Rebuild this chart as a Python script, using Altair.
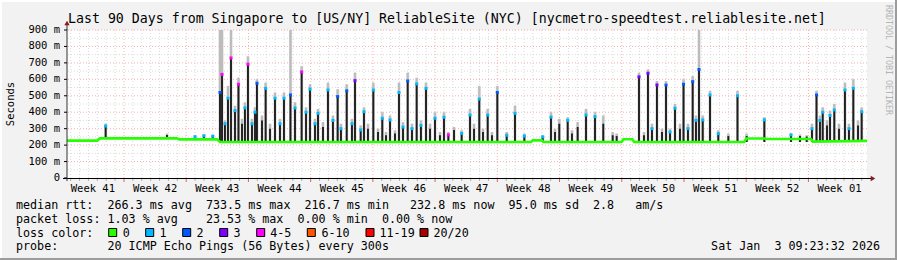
import altair as alt
import pandas as pd

# ---------------- text ----------------
TITLE = "Last 90 Days from Singapore to [US/NY] ReliableSite (NYC) [nycmetro-speedtest.reliablesite.net]"
ROW1 = "median rtt:  266.3 ms avg  733.5 ms max  216.7 ms min   232.8 ms now  95.0 ms sd  2.8   am/s"
ROW2 = "packet loss: 1.03 % avg    23.53 % max  0.00 % min  0.00 % now"
ROW3 = "loss color:"
ROW4 = "probe:       20 ICMP Echo Pings (56 Bytes) every 300s"
STAMP = "Sat Jan  3 09:23:32 2026"
SIDE = "RRDTOOL / TOBI OETIKER"
YTITLE = "Seconds"

# ---------------- axes ----------------
week_labels = ["Week 41", "Week 42", "Week 43", "Week 44", "Week 45", "Week 46", "Week 47",
               "Week 48", "Week 49", "Week 50", "Week 51", "Week 52", "Week 01"]
first_week_line = 6.41          # day (from graph start) of first week boundary
y_ticks = [0, 100, 200, 300, 400, 500, 600, 700, 800, 900]
y_tick_labels = ["0", "100 m", "200 m", "300 m", "400 m", "500 m", "600 m", "700 m", "800 m", "900 m"]
y_minor = [50, 150, 250, 350, 450, 550, 650, 750, 850]

# ---------------- loss colours ----------------
loss_names = ["0", "1", "2", "3", "4-5", "6-10", "11-19", "20/20"]
loss_colors = ["#26ff00", "#00b8ff", "#0059ff", "#7e00ff", "#ff00ff", "#ff5500", "#ff0000", "#a10000"]

# ---------------- median baseline (day, ms) ----------------
base_day = [0, 3.4, 3.7, 12.4, 12.6, 16.9, 17.2, 52.2, 52.4, 53.4, 53.6, 62.4, 62.6, 63.6, 63.8,
            76.2, 76.4, 78.5, 78.7, 83.7, 83.9, 90]
base_val = [227, 227, 241, 241, 235, 235, 219, 219, 229, 229, 219, 219, 236, 236, 219,
            219, 240, 240, 237, 237, 221, 226]

# ---------------- spikes before week 43 (baseline ~240) ----------------
early_day = [4.35, 11.25, 14.4, 15.4, 16.4]
early_peak = [316, 262, 251, 257, 255]
early_smoke = [330, 270, 260, 265, 260]
early_loss = [1, 0, 1, 1, 1]

# ---------------- spikes from week 43 on (baseline ~219) ----------------
spike_day = [17.21, 17.44, 17.77, 18.11, 18.45, 18.90, 19.29, 19.69, 20.02, 20.36, 20.81, 21.15, 21.37,
             21.94, 22.35, 22.84, 23.40, 23.96, 24.41, 25.14, 25.65, 26.40, 26.89, 27.34, 27.90, 28.24,
             28.80, 29.36, 29.92, 30.45, 30.82, 31.47, 32.06, 32.40, 33.04, 33.41, 33.86, 34.46, 34.99,
             35.47, 35.89, 36.34, 36.90, 37.35, 37.80, 38.33, 38.81, 39.34, 39.82, 40.39, 40.84, 41.40,
             41.96, 42.41, 42.90, 43.54, 44.40, 45.34, 45.79, 46.38, 46.80, 47.33, 47.81, 48.41, 49.47,
             50.40, 51.45, 53.52, 54.45, 54.90, 55.38, 56.33, 56.81, 57.45, 58.39, 59.40, 60.33, 61.39,
             61.84, 64.35, 64.91, 65.36, 65.81, 66.37, 66.94, 67.39, 67.84, 68.40, 68.96, 69.36, 69.86,
             70.39, 70.76, 71.10, 71.52, 72.34, 73.27, 74.40, 75.43, 76.46, 78.45, 81.45, 82.46, 83.22,
             83.81, 84.32, 84.71, 85.02, 85.50, 85.84, 86.32, 86.85, 87.52, 87.97, 88.46, 88.99, 89.40]
spike_peak = [520, 630, 330, 485, 730, 410, 570, 330, 426, 692, 330, 400, 576,
              350, 545, 300, 485, 330, 485, 505, 426, 645, 400, 540, 330, 393,
              310, 535, 350, 495, 300, 530, 330, 592, 292, 403, 300, 535, 280,
              363, 260, 353, 270, 520, 310, 590, 300, 572, 320, 545, 300, 363,
              260, 369, 262, 292, 271, 383, 300, 480, 280, 383, 260, 520, 260,
              393, 255, 250, 370, 280, 330, 350, 270, 310, 383, 373, 330, 260,
              255, 615, 260, 637, 300, 566, 280, 565, 280, 424, 300, 570, 300,
              586, 350, 660, 353, 505, 270, 255, 500, 255, 353, 262, 255, 252,
              300, 505, 350, 400, 320, 380, 414, 300, 535, 300, 545, 320, 403]
spike_smoke = [900, 900, 350, 560, 900, 440, 610, 360, 460, 740, 360, 430, 600,
               380, 580, 330, 520, 360, 520, 900, 460, 680, 430, 570, 360, 420,
               340, 580, 380, 540, 330, 570, 360, 640, 320, 430, 330, 580, 300,
               400, 280, 380, 290, 580, 340, 640, 330, 610, 350, 580, 330, 400,
               280, 400, 280, 310, 290, 420, 330, 560, 300, 420, 280, 560, 280,
               440, 270, 260, 400, 300, 360, 370, 290, 340, 420, 400, 380, 280,
               270, 640, 280, 660, 330, 590, 300, 590, 300, 450, 330, 600, 330,
               620, 380, 900, 380, 530, 290, 270, 530, 270, 370, 270, 265, 260,
               330, 530, 380, 430, 350, 410, 450, 330, 580, 330, 600, 350, 430]
spike_loss = [2, 4, 1, 1, 4, 1, 4, 0, 1, 4, 1, 1, 2,
              0, 1, 0, 1, 1, 1, 2, 1, 4, 1, 1, 1, 1,
              0, 1, 1, 2, 1, 2, 1, 3, 1, 1, 0, 1, 0,
              1, 0, 1, 0, 1, 1, 2, 1, 1, 1, 1, 0, 1,
              0, 1, 4, 0, 1, 1, 0, 1, 0, 1, 0, 2, 1,
              1, 1, 1, 1, 0, 0, 1, 0, 0, 1, 1, 0, 0,
              0, 3, 0, 3, 1, 3, 0, 2, 1, 1, 0, 2, 1,
              2, 1, 2, 1, 1, 1, 0, 1, 0, 1, 1, 0, 0,
              1, 2, 1, 1, 0, 1, 1, 0, 1, 1, 1, 0, 1]

# ---------------- frames ----------------
MONO = "DejaVu Sans Mono"
W, H = 800, 148
xs = alt.Scale(domain=[0, 90], nice=False, zero=False)
ys = alt.Scale(domain=[0, 900], nice=False, zero=False)


def X(f):
    return alt.X(f, type="quantitative", scale=xs, axis=None)


def Y(f):
    return alt.Y(f, type="quantitative", scale=ys, axis=None)


week_lines = [first_week_line + 7 * k for k in range(12)]
week_centers = [first_week_line - 3.5 + 7 * k for k in range(len(week_labels))]
day_lines = [round(first_week_line - 6 + k, 2) for k in range(90)]
day_minor = [d for d in day_lines if all(abs(d - w) > 0.01 for w in week_lines)]

df_base = pd.DataFrame({"d": base_day, "v": base_val})
df_early = pd.DataFrame({"d": early_day, "p": early_peak, "s": early_smoke, "l": early_loss,
                         "b": [240] * len(early_day)})
df_main = pd.DataFrame({"d": spike_day, "p": spike_peak, "s": spike_smoke, "l": spike_loss,
                        "b": [219] * len(spike_day)})
df_sp = pd.concat([df_early, df_main], ignore_index=True)
df_sp["loss"] = [loss_names[i] for i in df_sp["l"]]
one = pd.DataFrame({"a": [0]})

layers = []
# grid
layers.append(alt.Chart(pd.DataFrame({"v": y_minor})).mark_rule(color="#dadada", strokeDash=[1, 2], strokeWidth=1).encode(y=Y("v")))
layers.append(alt.Chart(pd.DataFrame({"d": day_minor})).mark_rule(color="#dadada", strokeDash=[1, 2], strokeWidth=1).encode(x=X("d")))
layers.append(alt.Chart(pd.DataFrame({"v": y_ticks[1:]})).mark_rule(color="#f6b0b0", strokeDash=[1, 2], strokeWidth=1).encode(y=Y("v")))
layers.append(alt.Chart(pd.DataFrame({"d": week_lines})).mark_rule(color="#f6b0b0", strokeDash=[1, 2], strokeWidth=1).encode(x=X("d")))

# smoke and spikes
layers.append(alt.Chart(df_sp).mark_rule(color="#d6d6d6", strokeWidth=3).encode(x=X("d"), y=Y("b"), y2="s"))
layers.append(alt.Chart(df_sp).mark_rule(color="#8c8c8c", strokeWidth=2).encode(x=X("d"), y=Y("b"), y2="s", opacity=alt.value(0.35)))
layers.append(alt.Chart(df_sp).mark_rule(color="#1e1e1e", strokeWidth=1.9).encode(x=X("d"), y=Y("b"), y2="p"))
# median baseline
layers.append(alt.Chart(df_base).mark_line(color="#26ff00", strokeWidth=2.6, interpolate="linear").encode(x=X("d"), y=Y("v")))
# loss markers on peaks
layers.append(alt.Chart(df_sp[df_sp["l"] > 0]).mark_square(size=9, opacity=1).encode(
    x=X("d"), y=Y("p"),
    color=alt.Color("loss:N", scale=alt.Scale(domain=loss_names, range=loss_colors), legend=None)))

# axes lines and ticks
layers.append(alt.Chart(one).mark_rule(color="#000000", strokeWidth=1).encode(x=alt.value(-4), x2=alt.value(804), y=alt.value(148.5)))
layers.append(alt.Chart(one).mark_rule(color="#333333", strokeWidth=1).encode(x=alt.value(0), y=alt.value(-5), y2=alt.value(151)))
layers.append(alt.Chart(pd.DataFrame({"v": y_ticks})).mark_rule(color="#000000", strokeWidth=1).encode(x=alt.value(-3), x2=alt.value(0), y=Y("v")))
layers.append(alt.Chart(pd.DataFrame({"d": day_minor})).mark_rule(color="#b0b0b0", strokeWidth=1).encode(x=X("d"), y=alt.value(149), y2=alt.value(151)))
layers.append(alt.Chart(pd.DataFrame({"d": week_lines})).mark_rule(color="#e06060", strokeWidth=1).encode(x=X("d"), y=alt.value(149), y2=alt.value(152)))
layers.append(alt.Chart(one).mark_point(shape="triangle-up", filled=True, color="#8b1a1a", size=28, opacity=1).encode(x=alt.value(0), y=alt.value(-7)))
layers.append(alt.Chart(one).mark_point(shape="triangle-right", filled=True, color="#8b1a1a", size=28, opacity=1).encode(x=alt.value(806), y=alt.value(148.5)))

# tick labels
layers.append(alt.Chart(pd.DataFrame({"v": y_ticks, "t": y_tick_labels})).mark_text(
    font=MONO, fontSize=10.5, align="right", baseline="middle", color="#000000").encode(
    x=alt.value(-7), y=Y("v"), text="t:N"))
layers.append(alt.Chart(pd.DataFrame({"d": week_centers, "t": week_labels})).mark_text(
    font=MONO, fontSize=10.5, align="center", baseline="alphabetic", color="#000000").encode(
    x=X("d"), y=alt.value(161.7), text="t:N"))


def txt(s, x, y, size=11.7, align="left", angle=0, color="#000000", baseline="alphabetic"):
    return alt.Chart(pd.DataFrame({"t": [s.replace(" ", "\u00a0")]})).mark_text(
        font=MONO, fontSize=size, align=align, baseline=baseline, angle=angle, color=color).encode(
        x=alt.value(x), y=alt.value(y), text="t:N")


layers.append(txt(TITLE, 1, -6.6, size=13.25))
layers.append(txt(YTITLE, -56, 74, size=10.5, align="center", angle=270, baseline="middle"))
layers.append(txt(ROW1, -51, 178.5))
layers.append(txt(ROW2, -51, 192.5))
layers.append(txt(ROW3, -51, 206.5))
layers.append(txt(ROW4, -51, 220.3))
layers.append(txt(STAMP, 813, 220.3, align="right"))
layers.append(txt(SIDE, 821, 30, size=8.3, align="center", angle=90, color="#b4b4b4", baseline="middle"))

# loss colour legend boxes
box_left = [108.7, 145.7, 182.7, 219.7, 256.7, 307.3, 366.0, 420.0]
lab_left = [123.3, 160.0, 197.0, 234.0, 270.7, 322.0, 380.0, 434.0]
for name, col, bx, lx in zip(loss_names, loss_colors, box_left, lab_left):
    layers.append(alt.Chart(one).mark_square(size=64, filled=True, fill=col, stroke="#000000", strokeWidth=1, opacity=1).encode(
        x=alt.value(bx - 67 + 4), y=alt.value(202.5)))
    layers.append(txt(name, lx - 67 - 0.5, 206.5))

# frame (3d border)
layers.append(alt.Chart(one).mark_rule(color="#ffffff", strokeWidth=2).encode(x=alt.value(-67), x2=alt.value(830), y=alt.value(-29)))
layers.append(alt.Chart(one).mark_rule(color="#ffffff", strokeWidth=2).encode(x=alt.value(-66), y=alt.value(-30), y2=alt.value(230)))
layers.append(alt.Chart(one).mark_rule(color="#9c9c9c", strokeWidth=2).encode(x=alt.value(-67), x2=alt.value(830), y=alt.value(229)))
layers.append(alt.Chart(one).mark_rule(color="#9c9c9c", strokeWidth=2).encode(x=alt.value(829), y=alt.value(-30), y2=alt.value(230)))

chart = alt.layer(*layers).properties(
    width=W, height=H,
    autosize=alt.AutoSizeParams(type="none"),
    padding={"left": 67, "top": 30, "right": 30, "bottom": 82},
    background="#f2f2f2",
).configure_view(fill="#ffffff", stroke=None)

chart.save("out.html", embed_options={"renderer": "svg", "actions": False})
